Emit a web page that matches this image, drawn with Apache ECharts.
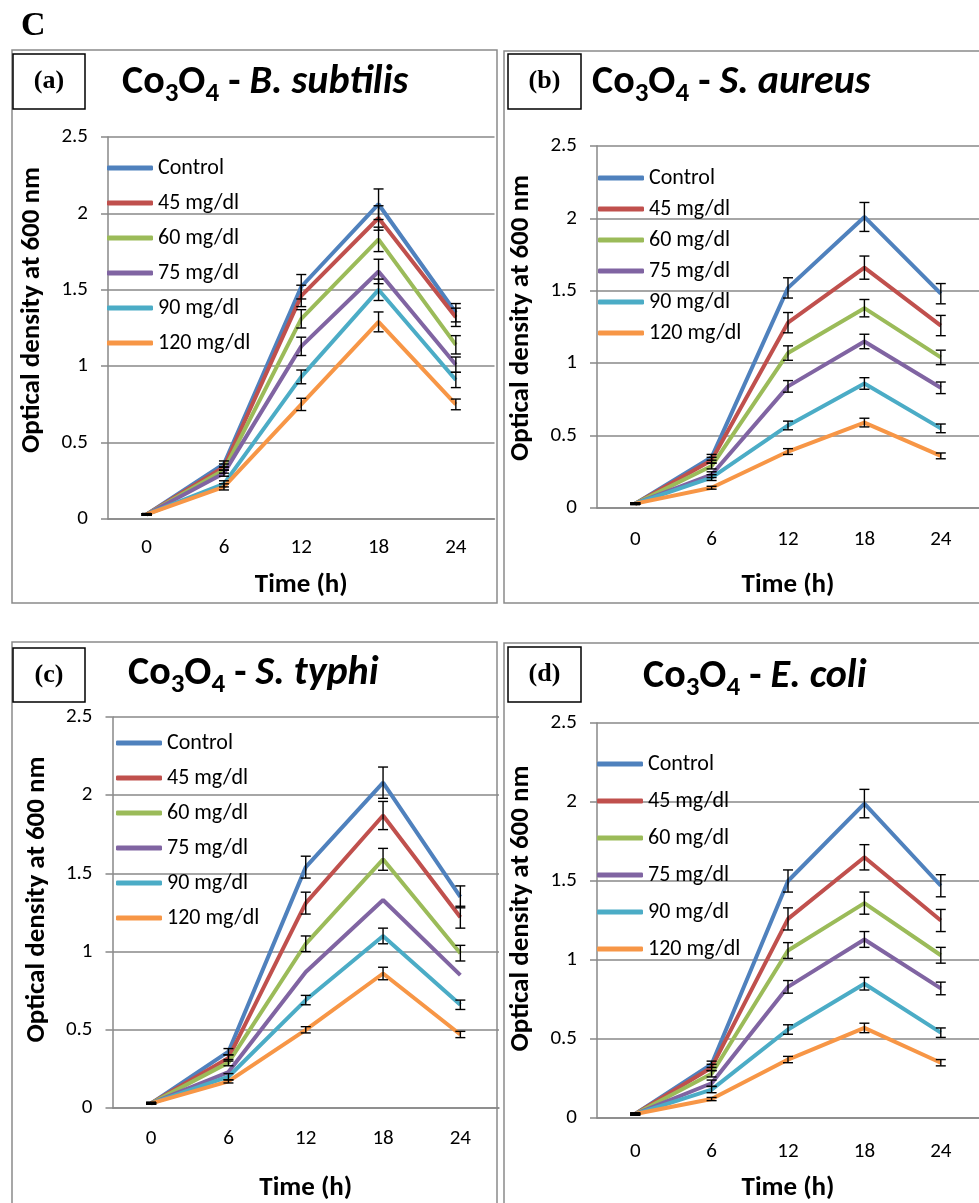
<!DOCTYPE html>
<html><head><meta charset="utf-8">
<script src="https://cdn.jsdelivr.net/npm/echarts@6/dist/echarts.min.js"></script>
<style>html,body{margin:0;padding:0;background:#fff}#c{width:979px;height:1203px}</style>
</head><body><div id="c"></div>
<script>
// ---------- DATA ----------
const timeLabels = ['0', '6', '12', '18', '24'];
const seriesNames = ['Control', '45 mg/dl', '60 mg/dl', '75 mg/dl', '90 mg/dl', '120 mg/dl'];
const panelLetters = ['(a)', '(b)', '(c)', '(d)'];
const organisms = ['B. subtilis', 'S. aureus', 'S. typhi', 'E. coli'];

const subtilisMeans = [
  [0.03, 0.36, 1.52, 2.06, 1.35],
  [0.03, 0.34, 1.46, 1.97, 1.32],
  [0.03, 0.32, 1.31, 1.83, 1.14],
  [0.03, 0.30, 1.13, 1.62, 1.01],
  [0.03, 0.23, 0.93, 1.50, 0.91],
  [0.03, 0.21, 0.75, 1.29, 0.75]
];
const subtilisErr = [
  [0.005, 0.02, 0.08, 0.10, 0.06],
  [0.005, 0.02, 0.07, 0.08, 0.06],
  [0.005, 0.02, 0.06, 0.08, 0.06],
  [0.005, 0.02, 0.06, 0.08, 0.05],
  [0.005, 0.02, 0.045, 0.07, 0.05],
  [0.005, 0.02, 0.04, 0.065, 0.035]
];
const aureusMeans = [
  [0.03, 0.35, 1.52, 2.01, 1.48],
  [0.03, 0.33, 1.28, 1.66, 1.26],
  [0.03, 0.29, 1.07, 1.38, 1.04],
  [0.03, 0.23, 0.84, 1.15, 0.83],
  [0.03, 0.21, 0.57, 0.86, 0.55],
  [0.03, 0.14, 0.39, 0.59, 0.36]
];
const aureusErr = [
  [0.005, 0.02, 0.07, 0.10, 0.07],
  [0.005, 0.02, 0.07, 0.08, 0.07],
  [0.005, 0.02, 0.05, 0.06, 0.05],
  [0.005, 0.02, 0.04, 0.05, 0.04],
  [0.005, 0.02, 0.03, 0.04, 0.03],
  [0.005, 0.01, 0.02, 0.03, 0.02]
];
const typhiMeans = [
  [0.03, 0.36, 1.54, 2.08, 1.35],
  [0.03, 0.32, 1.31, 1.87, 1.22],
  [0.03, 0.29, 1.05, 1.59, 0.99],
  [0.03, 0.23, 0.87, 1.33, 0.85],
  [0.03, 0.20, 0.69, 1.10, 0.66],
  [0.03, 0.17, 0.50, 0.86, 0.47]
];
const typhiErr = [
  [0.005, 0.02, 0.07, 0.10, 0.07],
  [0.005, 0.02, 0.07, 0.09, 0.07],
  [0.005, 0.02, 0.05, 0.07, 0.05],
  [0, 0, 0, 0, 0],
  [0.005, 0.02, 0.03, 0.05, 0.03],
  [0.005, 0.01, 0.02, 0.04, 0.02]
];
const coliMeans = [
  [0.025, 0.34, 1.50, 1.99, 1.47],
  [0.025, 0.32, 1.26, 1.65, 1.25],
  [0.025, 0.28, 1.06, 1.36, 1.03],
  [0.025, 0.22, 0.83, 1.13, 0.82],
  [0.025, 0.18, 0.56, 0.85, 0.54],
  [0.025, 0.12, 0.37, 0.57, 0.35]
];
const coliErr = [
  [0.005, 0.02, 0.07, 0.09, 0.07],
  [0.005, 0.02, 0.07, 0.08, 0.07],
  [0.005, 0.02, 0.05, 0.07, 0.05],
  [0.005, 0.02, 0.04, 0.05, 0.04],
  [0.005, 0.02, 0.03, 0.04, 0.03],
  [0.005, 0.01, 0.02, 0.03, 0.02]
];
const yMin = 0, yMax = 2.5, yStep = 0.5;

// ---------- STYLE / LAYOUT ----------
const colors = ['#4F81BD', '#C0504D', '#9BBB59', '#8064A2', '#4BACC6', '#F79646'];
const FONT = 'Carlito, Lato, sans-serif';
const GRIDC = '#888888';
const panelMeans = [subtilisMeans, aureusMeans, typhiMeans, coliMeans];
const panelErr = [subtilisErr, aureusErr, typhiErr, coliErr];

const layout = [
  { grid: {left: 108, top: 137, width: 386.5, height: 382}, legend: {left: 107, top: 157, gap: 13},
    title: {left: 122, top: 58}, box: {x: 13, y: 54, w: 72, h: 55}, frame: {x: 12, y: 50, w: 485, h: 553},
    yShift: 36, xGap: 53, xMargin: 18 },
  { grid: {left: 597, top: 146, width: 385, height: 362}, legend: {left: 598, top: 167, gap: 9},
    title: {left: 592, top: 58}, box: {x: 508, y: 54, w: 73, h: 55}, frame: {x: 504, y: 51, w: 490, h: 552},
    yShift: 18, xGap: 64, xMargin: 21 },
  { grid: {left: 112.5, top: 717, width: 386.5, height: 392}, legend: {left: 116, top: 732, gap: 13},
    title: {left: 128, top: 649}, box: {x: 13, y: 648, w: 72, h: 54}, frame: {x: 12, y: 642, w: 485, h: 580},
    yShift: 26, xGap: 67, xMargin: 20 },
  { grid: {left: 597, top: 723, width: 385, height: 397}, legend: {left: 597, top: 753, gap: 15},
    title: {left: 643, top: 652}, box: {x: 508, y: 647, w: 73, h: 55}, frame: {x: 504, y: 643, w: 490, h: 580},
    yShift: 24, xGap: 57, xMargin: 23 }
];

const option = {
  backgroundColor: '#fff',
  animation: false,
  textStyle: {fontFamily: FONT},
  grid: [], xAxis: [], yAxis: [], legend: [], title: [], series: [],
  graphic: []
};

option.graphic.push({type: 'text', left: 21, top: 9,
  style: {text: 'C', font: 'bold 34px "Liberation Serif", serif', fill: '#000'}});

layout.forEach((L, p) => {
  option.grid.push(Object.assign({containLabel: false}, L.grid));
  option.xAxis.push({
    type: 'category', gridIndex: p, data: timeLabels, boundaryGap: true,
    axisLine: {show: true, lineStyle: {color: GRIDC, width: 1.5}},
    axisTick: {show: false},
    axisLabel: {color: '#000', fontSize: 21, margin: L.xMargin, fontFamily: FONT},
    name: 'Time (h)', nameLocation: 'middle', nameGap: L.xGap,
    nameTextStyle: {color: '#000', fontSize: 27, fontWeight: 'bold', fontFamily: FONT}
  });
  option.yAxis.push({
    type: 'value', gridIndex: p, min: yMin, max: yMax, interval: yStep,
    axisLine: {show: true, lineStyle: {color: GRIDC, width: 1.5}},
    axisTick: {show: true, inside: false, length: 7, lineStyle: {color: GRIDC, width: 1.5}},
    splitLine: {show: true, lineStyle: {color: GRIDC, width: 1.5}},
    axisLabel: {color: '#000', fontSize: 21, margin: 20, fontFamily: FONT},
    name: 'Optical density at 600 nm', nameLocation: 'middle', nameGap: 62, nameRotate: 90,
    nameTextStyle: {color: '#000', fontSize: 27, fontWeight: 'bold', fontFamily: FONT,
      padding: [0, 0, 0, L.yShift]}
  });
  option.legend.push({
    orient: 'vertical', left: L.legend.left, top: L.legend.top, itemGap: L.legend.gap,
    itemWidth: 46, itemHeight: 5, icon: 'roundRect', selectedMode: false, padding: 0,
    data: seriesNames.map((n, i) => ({name: n, itemStyle: {color: colors[i]}})),
    textStyle: {color: '#000', fontSize: 22, lineHeight: 22, fontFamily: FONT}
  });
  option.title.push({
    left: L.title.left, top: L.title.top, padding: 0,
    text: '{n|Co}{s|3}{n|O}{s|4}{n| - }{i|' + organisms[p] + '}',
    textStyle: {
      rich: {
        n: {fontSize: 40, fontWeight: 'bold', fontFamily: FONT, color: '#000', lineHeight: 50, verticalAlign: 'middle'},
        s: {fontSize: 27, fontWeight: 'bold', fontFamily: FONT, color: '#000', lineHeight: 50, verticalAlign: 'bottom'},
        i: {fontSize: 40, fontWeight: 'bold', fontStyle: 'italic', fontFamily: FONT, color: '#000', lineHeight: 50, verticalAlign: 'middle'}
      }
    }
  });
  option.graphic.push({type: 'rect', shape: {x: L.frame.x, y: L.frame.y, width: L.frame.w, height: L.frame.h},
    style: {fill: 'none', stroke: '#8a8a8a', lineWidth: 1.5}, z: -1});
  option.graphic.push({type: 'rect', shape: {x: L.box.x, y: L.box.y, width: L.box.w, height: L.box.h},
    style: {fill: '#fff', stroke: '#000', lineWidth: 1.5}});
  option.graphic.push({type: 'text', x: L.box.x + L.box.w / 2, y: L.box.y + L.box.h / 2,
    style: {text: panelLetters[p], font: 'bold 26px "Liberation Serif", serif', fill: '#000',
      align: 'center', verticalAlign: 'middle'}});

  const means = panelMeans[p], errs = panelErr[p];
  seriesNames.forEach((name, i) => {
    option.series.push({
      type: 'line', name: name, xAxisIndex: p, yAxisIndex: p, data: means[i],
      symbol: 'none', lineStyle: {width: 4, color: colors[i]}, itemStyle: {color: colors[i]}, z: 2
    });
  });
  seriesNames.forEach((name, i) => {
    const d = [];
    means[i].forEach((v, k) => { if (errs[i][k] > 0) d.push([k, v - errs[i][k], v + errs[i][k]]); });
    option.series.push({
      type: 'custom', name: 'err-' + p + '-' + i, xAxisIndex: p, yAxisIndex: p, data: d, z: 3,
      encode: {x: 0, y: [1, 2]},
      renderItem: function (params, api) {
        const lo = api.coord([api.value(0), api.value(1)]);
        const hi = api.coord([api.value(0), api.value(2)]);
        const w = 5, st = {stroke: '#000', lineWidth: 1.4};
        return {type: 'group', children: [
          {type: 'line', shape: {x1: lo[0], y1: lo[1], x2: hi[0], y2: hi[1]}, style: st},
          {type: 'line', shape: {x1: lo[0] - w, y1: lo[1], x2: lo[0] + w, y2: lo[1]}, style: st},
          {type: 'line', shape: {x1: hi[0] - w, y1: hi[1], x2: hi[0] + w, y2: hi[1]}, style: st}
        ]};
      }
    });
  });
});

const chart = echarts.init(document.getElementById('c'), null, {renderer: 'canvas'});
chart.setOption(option);
</script></body></html>
